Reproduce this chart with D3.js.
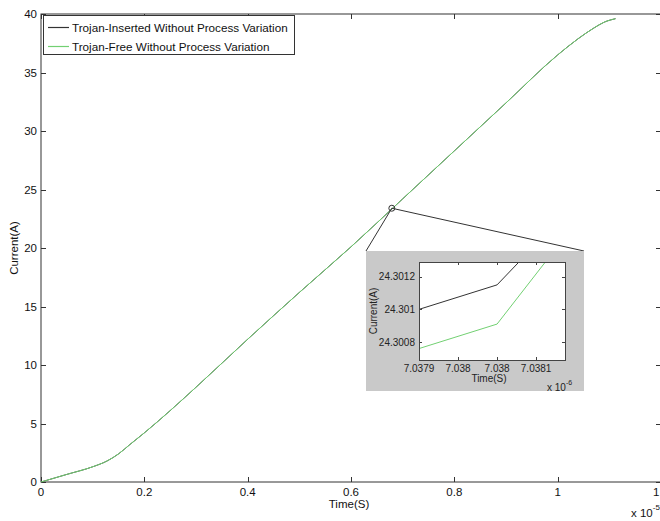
<!DOCTYPE html>
<html><head><meta charset="utf-8">
<script src="https://cdn.jsdelivr.net/npm/d3@7"></script>
<style>
body{margin:0;background:#fff;}
svg{display:block;font-family:"Liberation Sans",Arial,sans-serif;}
</style></head>
<body><svg id="c" width="660" height="521"></svg>
<script>
// ---- data (time in units of 1e-5 s, current in A) ----
const timeMain = [0, 0.05, 0.1, 0.128, 0.15, 0.172, 0.2, 0.25, 0.3, 0.4, 0.5, 0.6, 0.7, 0.8, 0.9, 1.0, 1.04, 1.07, 1.09, 1.112];
const trojanInserted = [0, 0.65, 1.3, 1.8, 2.4, 3.2, 4.2, 6.1, 8.1, 12.2, 16.2, 20.1, 24.2, 28.3, 32.4, 36.5, 37.9, 38.8, 39.3, 39.6];
const trojanFree = [0, 0.65, 1.3, 1.8, 2.4, 3.2, 4.2, 6.1, 8.1, 12.2, 16.2, 20.1, 24.2, 28.3, 32.4, 36.5, 37.9, 38.8, 39.3, 39.6];
const xTicks = [0, 0.2, 0.4, 0.6, 0.8, 1, 1.2];
const xTickLabels = ["0", "0.2", "0.4", "0.6", "0.8", "1", "1.2"];
const yTicks = [0, 5, 10, 15, 20, 25, 30, 35, 40];
const zoomPoint = [0.679, 23.4];
// inset (time in units of 1e-6 s)
const insetTimeInserted = [7.0379, 7.0380, 7.03805];
const insetInserted = [24.30100, 24.30115, 24.30140];
const insetTimeFree = [7.0379, 7.0380, 7.03807];
const insetFree = [24.30076, 24.30091, 24.30134];
const insetXTicks = [7.0379, 7.03795, 7.0380, 7.03805];
const insetXTickLabels = ["7.0379", "7.038", "7.038", "7.0381"];
const insetYTicks = [24.3008, 24.3010, 24.3012];
const insetYTickLabels = ["24.3008", "24.301", "24.3012"];
const seriesNames = ["Trojan-Inserted Without Process Variation", "Trojan-Free Without Process Variation"];
const colors = ["#333333", "#72d072"];

const svg = d3.select("#c");
const axisCol = "#333";

// ---- main axes ----
const x = d3.scaleLinear().domain([0, 1.2]).range([41, 661]);
const y = d3.scaleLinear().domain([0, 40]).range([482, 14]);
const L = x.range()[0], R = x.range()[1], B = y.range()[0], T = y.range()[1];
const tl = 5;

const g = svg.append("g");
g.append("rect").attr("x", L).attr("y", T).attr("width", R - L).attr("height", B - T)
  .attr("fill", "none").attr("stroke", axisCol).attr("stroke-width", 1);
xTicks.forEach((t, i) => {
  const px = Math.round(x(t)) + 0.5;
  g.append("line").attr("x1", px).attr("x2", px).attr("y1", B).attr("y2", B - tl).attr("stroke", axisCol);
  g.append("line").attr("x1", px).attr("x2", px).attr("y1", T).attr("y2", T + tl).attr("stroke", axisCol);
  g.append("text").attr("x", x(t)).attr("y", 496).attr("text-anchor", "middle")
    .attr("font-size", 11.5).attr("fill", "#111").text(xTickLabels[i]);
});
yTicks.forEach(t => {
  const py = Math.round(y(t)) + 0.5;
  g.append("line").attr("x1", L).attr("x2", L + tl).attr("y1", py).attr("y2", py).attr("stroke", axisCol);
  g.append("line").attr("x1", R).attr("x2", R - tl).attr("y1", py).attr("y2", py).attr("stroke", axisCol);
  g.append("text").attr("x", 37).attr("y", y(t) + 4).attr("text-anchor", "end")
    .attr("font-size", 11.5).attr("fill", "#111").text(t);
});
g.append("text").attr("x", 349).attr("y", 508).attr("text-anchor", "middle")
  .attr("font-size", 11.5).attr("fill", "#111").text("Time(S)");
g.append("text").attr("transform", "translate(18,248) rotate(-90)").attr("text-anchor", "middle")
  .attr("font-size", 11.5).attr("fill", "#111").text("Current(A)");
const ex = g.append("text").attr("x", 631).attr("y", 517).attr("font-size", 11.5).attr("fill", "#111");
ex.append("tspan").text("x 10");
ex.append("tspan").attr("dy", -7).attr("font-size", 8).text("-5");

// lines
const line = d3.line().x(d => x(d[0])).y(d => y(d[1])).curve(d3.curveMonotoneX);
g.append("path").datum(timeMain.map((t, i) => [t, trojanInserted[i]]))
  .attr("d", line).attr("fill", "none").attr("stroke", colors[0]).attr("stroke-width", 1);
g.append("path").datum(timeMain.map((t, i) => [t, trojanFree[i]]))
  .attr("d", line).attr("fill", "none").attr("stroke", colors[1]).attr("stroke-width", 1);

// legend
const lg = g.append("g");
lg.append("rect").attr("x", 43.5).attr("y", 15.5).attr("width", 251).attr("height", 39)
  .attr("fill", "#fff").attr("stroke", axisCol);
seriesNames.forEach((n, i) => {
  const ly = 27.5 + i * 19;
  lg.append("line").attr("x1", 48).attr("x2", 69).attr("y1", ly).attr("y2", ly).attr("stroke", colors[i]).attr("stroke-width", 1.2);
  lg.append("text").attr("x", 72).attr("y", ly + 4).attr("font-size", 11.7).attr("fill", "#111").text(n);
});

// ---- inset ----
const box = {x0: 366, y0: 251, x1: 584, y1: 391};
const xi = d3.scaleLinear().domain([7.0379, 7.038087]).range([419, 565]);
const yi = d3.scaleLinear().domain([24.30069, 24.30129]).range([360, 262]);
const cx = x(zoomPoint[0]), cy = y(zoomPoint[1]);
g.append("line").attr("x1", cx).attr("y1", cy).attr("x2", box.x0).attr("y2", box.y0).attr("stroke", "#333");
g.append("line").attr("x1", cx).attr("y1", cy).attr("x2", box.x1).attr("y2", box.y0).attr("stroke", "#333");
g.append("circle").attr("cx", cx).attr("cy", cy).attr("r", 3).attr("fill", "none").attr("stroke", "#333");

const ig = svg.append("g");
ig.append("rect").attr("x", box.x0).attr("y", box.y0).attr("width", box.x1 - box.x0).attr("height", box.y1 - box.y0).attr("fill", "#c9c9c9");
const iL = xi.range()[0], iR = xi.range()[1], iB = yi.range()[0], iT = yi.range()[1];
ig.append("rect").attr("x", iL).attr("y", iT).attr("width", iR - iL).attr("height", iB - iT).attr("fill", "#fff");
ig.append("clipPath").attr("id", "ic").append("rect").attr("x", iL).attr("y", iT).attr("width", iR - iL).attr("height", iB - iT);
const iline = d3.line().x(d => xi(d[0])).y(d => yi(d[1]));
ig.append("path").datum(insetTimeInserted.map((t, i) => [t, insetInserted[i]]))
  .attr("d", iline).attr("clip-path", "url(#ic)").attr("fill", "none").attr("stroke", colors[0]);
ig.append("path").datum(insetTimeFree.map((t, i) => [t, insetFree[i]]))
  .attr("d", iline).attr("clip-path", "url(#ic)").attr("fill", "none").attr("stroke", colors[1]);
ig.append("rect").attr("x", iL + 0.5).attr("y", iT + 0.5).attr("width", iR - iL).attr("height", iB - iT)
  .attr("fill", "none").attr("stroke", "#444");
const itl = 3;
insetXTicks.forEach((t, i) => {
  const px = Math.round(xi(t)) + 0.5;
  ig.append("line").attr("x1", px).attr("x2", px).attr("y1", iB).attr("y2", iB - itl).attr("stroke", "#444");
  ig.append("line").attr("x1", px).attr("x2", px).attr("y1", iT).attr("y2", iT + itl).attr("stroke", "#444");
  ig.append("text").attr("x", xi(t)).attr("y", 372).attr("text-anchor", "middle")
    .attr("font-size", 10).attr("fill", "#222").text(insetXTickLabels[i]);
});
insetYTicks.forEach((t, i) => {
  const py = Math.round(yi(t)) + 0.5;
  ig.append("line").attr("x1", iL).attr("x2", iL + itl).attr("y1", py).attr("y2", py).attr("stroke", "#444");
  ig.append("line").attr("x1", iR).attr("x2", iR - itl).attr("y1", py).attr("y2", py).attr("stroke", "#444");
  ig.append("text").attr("x", 415).attr("y", yi(t) + 3.5).attr("text-anchor", "end")
    .attr("font-size", 10).attr("fill", "#222").text(insetYTickLabels[i]);
});
ig.append("text").attr("x", 489).attr("y", 382).attr("text-anchor", "middle")
  .attr("font-size", 10).attr("fill", "#222").text("Time(S)");
ig.append("text").attr("transform", "translate(377,311) rotate(-90)").attr("text-anchor", "middle")
  .attr("font-size", 10).attr("fill", "#222").text("Current(A)");
const iex = ig.append("text").attr("x", 547).attr("y", 391).attr("font-size", 10).attr("fill", "#222");
iex.append("tspan").text("x 10");
iex.append("tspan").attr("dy", -6).attr("font-size", 7).text("-6");
</script></body></html>
